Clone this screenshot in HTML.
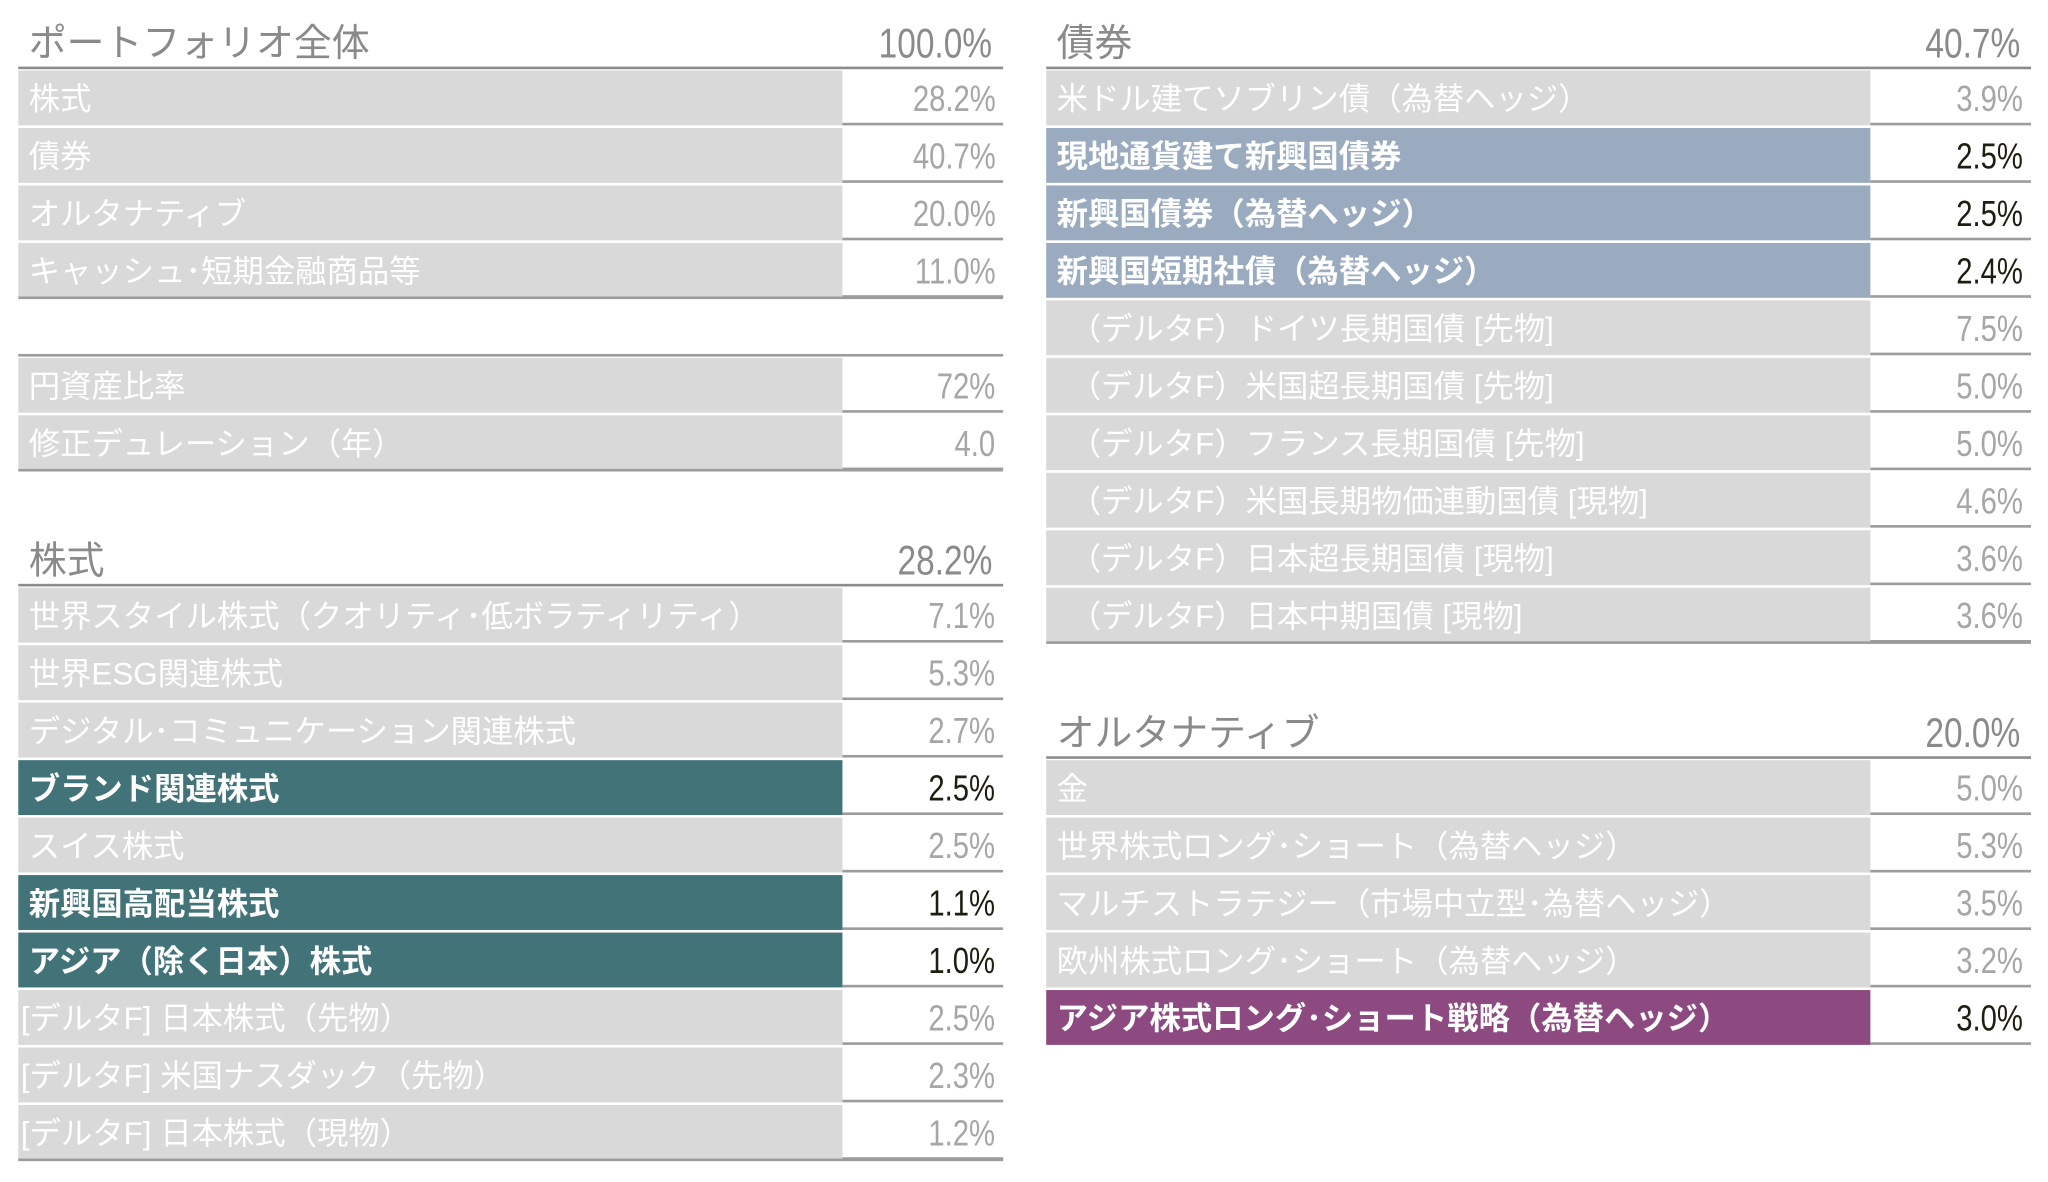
<!DOCTYPE html>
<html><head><meta charset="utf-8">
<style>
html,body{margin:0;padding:0;background:#fff;width:2048px;height:1182px;overflow:hidden}
#stage{position:absolute;left:0;top:0;width:1568px;height:905px;transform:scale(1.30612);transform-origin:0 0;font-family:"Liberation Sans","Noto Sans CJK JP",sans-serif}
.t{position:absolute;width:754px}
.hd{position:absolute;left:0;width:754px;height:40px}
.hd .l{position:absolute;left:8px;bottom:0px;font-size:29px;color:#8a8a8a;white-space:nowrap}
.hd .v{position:absolute;right:8px;bottom:0px;font-size:32px;color:#8a8a8a;transform:scaleX(0.8);transform-origin:right center}
.hl{position:absolute;left:0;width:754px;height:2px;background:#8c8c8c}
.r{position:absolute;left:0;width:754px;height:44px}
.r .l{position:absolute;left:0;top:2px;width:631px;height:42px;background:#d9d9d9;color:#fff;font-size:24px;line-height:46px;padding-left:8px;box-sizing:border-box;white-space:nowrap;overflow:hidden}
.r .v{position:absolute;left:631px;top:0;width:123px;height:44px;color:#a6a6a6;font-size:28px;line-height:48px;text-align:right;padding-right:6px;box-sizing:border-box;border-bottom:2px solid #9c9c9c}
.r .v span{display:inline-block;transform:scaleX(0.8);transform-origin:right center}
.r.teal .l{background:#417378;font-weight:bold}
.r.blue .l{background:#9aabc0;font-weight:bold}
.r.purp .l{background:#8c4a80;font-weight:bold}
.r.teal .v,.r.blue .v,.r.purp .v{color:#1e1e10}
.bl{position:absolute;left:0;width:754px;height:2px;background:#9c9c9c}
</style></head><body>
<div id="stage">

<div class="t" style="left:14px;top:0">
 <div class="hd" style="top:12px"><span class="l">ポートフォリオ全体</span><span class="v">100.0%</span></div>
 <div class="hl" style="top:51px"></div>
 <div class="r" style="top:52px"><div class="l">株式</div><div class="v"><span>28.2%</span></div></div>
 <div class="r" style="top:96px"><div class="l">債券</div><div class="v"><span>40.7%</span></div></div>
 <div class="r" style="top:140px"><div class="l">オルタナティブ</div><div class="v"><span>20.0%</span></div></div>
 <div class="r" style="top:184px"><div class="l">キャッシュ･短期金融商品等</div><div class="v"><span>11.0%</span></div></div>
 <div class="bl" style="top:227px"></div>

 <div class="bl" style="top:271px"></div>
 <div class="r" style="top:272px"><div class="l">円資産比率</div><div class="v"><span>72%</span></div></div>
 <div class="r" style="top:316px"><div class="l">修正デュレーション（年）</div><div class="v"><span>4.0</span></div></div>
 <div class="bl" style="top:359px"></div>

 <div class="hd" style="top:408px"><span class="l">株式</span><span class="v">28.2%</span></div>
 <div class="hl" style="top:447px"></div>
 <div class="r" style="top:448px"><div class="l">世界スタイル株式（クオリティ･低ボラティリティ）</div><div class="v"><span>7.1%</span></div></div>
 <div class="r" style="top:492px"><div class="l">世界ESG関連株式</div><div class="v"><span>5.3%</span></div></div>
 <div class="r" style="top:536px"><div class="l">デジタル･コミュニケーション関連株式</div><div class="v"><span>2.7%</span></div></div>
 <div class="r teal" style="top:580px"><div class="l">ブランド関連株式</div><div class="v"><span>2.5%</span></div></div>
 <div class="r" style="top:624px"><div class="l">スイス株式</div><div class="v"><span>2.5%</span></div></div>
 <div class="r teal" style="top:668px"><div class="l">新興国高配当株式</div><div class="v"><span>1.1%</span></div></div>
 <div class="r teal" style="top:712px"><div class="l">アジア（除く日本）株式</div><div class="v"><span>1.0%</span></div></div>
 <div class="r" style="top:756px"><div class="l" style="padding-left:2px">[デルタF] 日本株式（先物）</div><div class="v"><span>2.5%</span></div></div>
 <div class="r" style="top:800px"><div class="l" style="padding-left:2px">[デルタF] 米国ナスダック（先物）</div><div class="v"><span>2.3%</span></div></div>
 <div class="r" style="top:844px"><div class="l" style="padding-left:2px">[デルタF] 日本株式（現物）</div><div class="v"><span>1.2%</span></div></div>
 <div class="bl" style="top:887px"></div>
</div>

<div class="t" style="left:801px;top:0">
 <div class="hd" style="top:12px"><span class="l">債券</span><span class="v">40.7%</span></div>
 <div class="hl" style="top:51px"></div>
 <div class="r" style="top:52px"><div class="l">米ドル建てソブリン債（為替ヘッジ）</div><div class="v"><span>3.9%</span></div></div>
 <div class="r blue" style="top:96px"><div class="l">現地通貨建て新興国債券</div><div class="v"><span>2.5%</span></div></div>
 <div class="r blue" style="top:140px"><div class="l">新興国債券（為替ヘッジ）</div><div class="v"><span>2.5%</span></div></div>
 <div class="r blue" style="top:184px"><div class="l">新興国短期社債（為替ヘッジ）</div><div class="v"><span>2.4%</span></div></div>
 <div class="r" style="top:228px"><div class="l" style="padding-left:18px">（デルタF）ドイツ長期国債 [先物]</div><div class="v"><span>7.5%</span></div></div>
 <div class="r" style="top:272px"><div class="l" style="padding-left:18px">（デルタF）米国超長期国債 [先物]</div><div class="v"><span>5.0%</span></div></div>
 <div class="r" style="top:316px"><div class="l" style="padding-left:18px">（デルタF）フランス長期国債 [先物]</div><div class="v"><span>5.0%</span></div></div>
 <div class="r" style="top:360px"><div class="l" style="padding-left:18px">（デルタF）米国長期物価連動国債 [現物]</div><div class="v"><span>4.6%</span></div></div>
 <div class="r" style="top:404px"><div class="l" style="padding-left:18px">（デルタF）日本超長期国債 [現物]</div><div class="v"><span>3.6%</span></div></div>
 <div class="r" style="top:448px"><div class="l" style="padding-left:18px">（デルタF）日本中期国債 [現物]</div><div class="v"><span>3.6%</span></div></div>
 <div class="bl" style="top:491px"></div>

 <div class="hd" style="top:540px"><span class="l">オルタナティブ</span><span class="v">20.0%</span></div>
 <div class="hl" style="top:579px"></div>
 <div class="r" style="top:580px"><div class="l">金</div><div class="v"><span>5.0%</span></div></div>
 <div class="r" style="top:624px"><div class="l">世界株式ロング･ショート（為替ヘッジ）</div><div class="v"><span>5.3%</span></div></div>
 <div class="r" style="top:668px"><div class="l">マルチストラテジー（市場中立型･為替ヘッジ）</div><div class="v"><span>3.5%</span></div></div>
 <div class="r" style="top:712px"><div class="l">欧州株式ロング･ショート（為替ヘッジ）</div><div class="v"><span>3.2%</span></div></div>
 <div class="r purp" style="top:756px"><div class="l">アジア株式ロング･ショート戦略（為替ヘッジ）</div><div class="v"><span>3.0%</span></div></div>
</div>

</div>
</body></html>
